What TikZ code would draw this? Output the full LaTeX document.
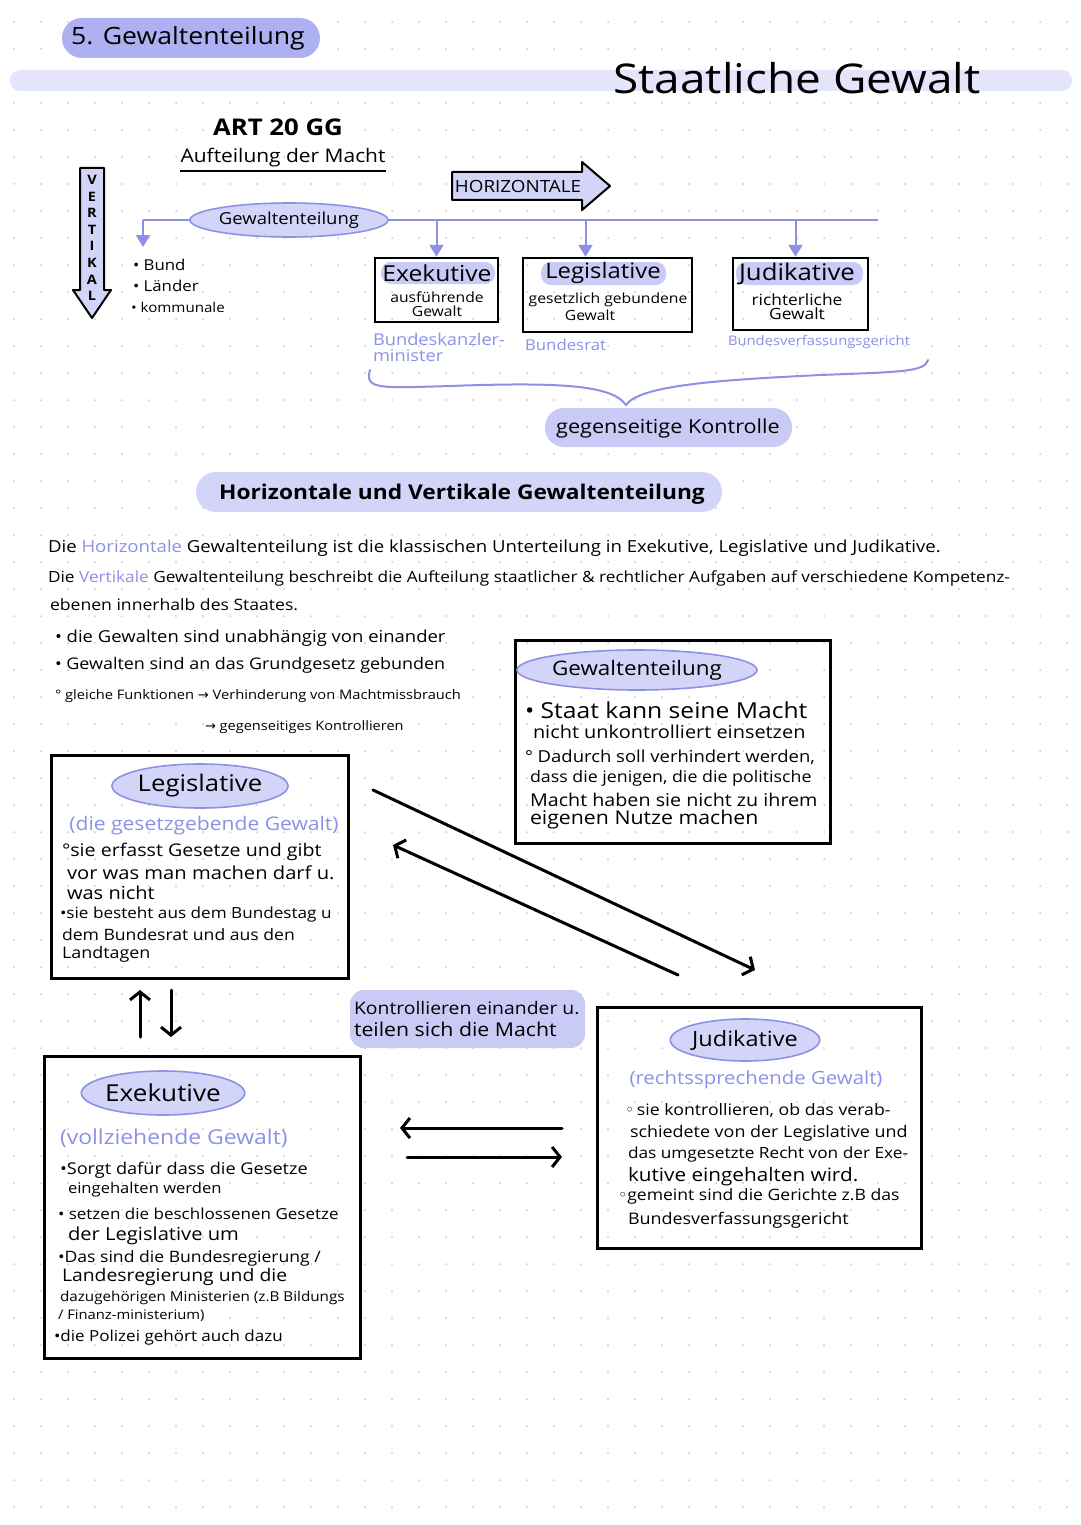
\documentclass[tikz,border=0pt]{standalone}
\usepackage{fontspec}
\setmainfont{Open Sans}[FakeStretch=1.12]
\newfontfamily\dejavu{DejaVu Sans}
\usetikzlibrary{arrows.meta,shapes.geometric}
\definecolor{titlec}{HTML}{ADB1F1}
\definecolor{pillc}{HTML}{C9CBF6}
\definecolor{bandc}{HTML}{E4E5FA}
\definecolor{ellc}{HTML}{D3D5F8}
\definecolor{lavline}{HTML}{8C91E6}
\definecolor{bluetext}{HTML}{8C91E6}
\definecolor{dotc}{HTML}{C9C9CE}
\tikzset{
  hw/.style={font=\fontsize{#1}{#1}\selectfont, inner sep=0pt, outer sep=0pt},
  hwl/.style={hw=#1, anchor=west},
  bluetxt/.style={text=bluetext},
  bigbox/.style={draw=black, line width=3pt, inner sep=0pt},
  smallbox/.style={draw=black, line width=2.4pt, inner sep=0pt},
  lavell/.style={ellipse, draw=lavline, fill=ellc, line width=1.6pt, inner sep=0pt},
  blueline/.style={draw=lavline, line width=2pt},
  bluearrow/.style={draw=lavline, line width=2pt, -{Triangle[width=14pt,length=12pt]}},
  blackarrow/.style={draw=black, line width=3pt, line cap=round, -{Straight Barb[length=8pt,width=20pt]}},
}
\begin{document}
\begin{tikzpicture}[x=1pt,y=-1pt]
\useasboundingbox (0,0) rectangle (1080,1525);
\fill[white] (0,0) rectangle (1080,1525);
% dot grid
\foreach \i in {0,...,39}{
  \foreach \j in {0,...,56}{
    \fill[dotc] (14+27*\i,22+27*\j) circle[radius=1pt];
  }
}
% header
\fill[bandc, rounded corners=10pt] (10,70) rectangle (1072,91);
\fill[titlec, rounded corners=20pt] (62,18) rectangle (320,58);
\node[hw=23.8] (title) at (188,38) {5. Gewaltenteilung};
\node[hw=41] (staat) at (797,78) {Staatliche Gewalt};

% ART 20 GG
\node[hw=22, font=\fontsize{23}{23}\selectfont\bfseries] (art) at (278,127) {ART 20 GG};
\node[hw=18.7] (aufteil) at (283,158) {Aufteilung der Macht};
\draw[line width=1.6pt] (180,171) -- (386,171);

% VERTIKAL arrow
\filldraw[fill=ellc, draw=black, line width=2pt, line join=round]
  (80,168) -- (104,168) -- (104,290) -- (111,290) -- (92,318) -- (73,290) -- (80,290) -- cycle;
\node[hw=13, align=center, font=\fontsize{13}{16.6}\selectfont\bfseries] (vert) at (92,238) {V\\E\\R\\T\\I\\K\\A\\L};

% HORIZONTALE arrow
\filldraw[fill=ellc, draw=black, line width=2pt, line join=round]
  (452,172) -- (582,172) -- (582,162) -- (610,186) -- (582,210) -- (582,200) -- (452,200) -- cycle;
\node[hw=16.8] (horiz) at (518,186) {HORIZONTALE};

% tree
\node[lavell, minimum width=155pt, minimum height=34pt, hw=16.5] (gt) at (289,220) {Gewaltenteilung};
\coordinate (vl) at (143,220);
\coordinate (vlend) at (143,247);
\coordinate (hr) at (878,220);
\draw[blueline] (gt.west) -- (vl);
\draw[bluearrow] (vl) -- (vlend);
\draw[blueline] (gt.east) -- (hr);

\node[hwl=15] (bund) at (133,265) {• Bund};
\node[hwl=15] (laender) at (133,286) {• Länder};
\node[hwl=13.5] (kommun) at (131,307) {• kommunale};

% small boxes
\node[smallbox, minimum width=123pt, minimum height=64pt] (exk) at (436.5,290) {};
\node[smallbox, minimum width=169pt, minimum height=74pt] (lgs) at (607.5,295) {};
\node[smallbox, minimum width=135pt, minimum height=72pt] (jdk) at (800.5,294) {};
\draw[bluearrow] (exk.north |- gt.east) -- (exk.north);
\draw[bluearrow] ([xshift=-22pt]lgs.north |- gt.east) -- ([xshift=-22pt]lgs.north);
\draw[bluearrow] ([xshift=-5pt]jdk.north |- gt.east) -- ([xshift=-5pt]jdk.north);

\fill[pillc, rounded corners=10pt] (381,262) rectangle (495,284);
\fill[pillc, rounded corners=10pt] (541,262) rectangle (666,285);
\fill[pillc, rounded corners=10pt] (736,262) rectangle (863,285);
\node[hw=22] (exkt) at (437,273) {Exekutive};
\node[hw=14] (exk1) at (437,297) {ausführende};
\node[hw=14] (exk2) at (437,311) {Gewalt};
\node[hw=21.3] (lgst) at (603,273) {Legislative};
\node[hw=14] (lgs1) at (608,300) {gesetzlich gebundene};
\node[hw=14] (lgs2) at (590,315) {Gewalt};
\node[hw=23] (jdkt) at (797,274) {Judikative};
\node[hw=15.5] (jdk1) at (797,300) {richterliche};
\node[hw=15.5] (jdk2) at (797,314) {Gewalt};

\node[hwl=16.3, bluetxt] (bk1) at (373,339) {Bundeskanzler-};
\node[hwl=16.3, bluetxt] (bk2) at (373,356) {minister};
\node[hwl=15, bluetxt] (br) at (525,345) {Bundesrat};
\node[hwl=13.2, bluetxt] (bvg) at (728,342) {Bundesverfassungsgericht};

% brace
\coordinate (brL) at (370,370);
\coordinate (brT) at (626,405);
\coordinate (brR) at (928,360);
\draw[blueline, line cap=round] (brL) .. controls (364,390) and (382,388) .. (450,386)
  .. controls (560,382) and (612,385) .. (brT)
  .. controls (640,385) and (720,380) .. (820,375)
  .. controls (900,372) and (925,372) .. (brR);

\fill[pillc, rounded corners=19pt] (545,408) rectangle (792,447);
\node[hw=19.3] (gk) at (668,428) {gegenseitige Kontrolle};

% second heading
\fill[ellc, rounded corners=20pt] (196,472) rectangle (722,512);
\node[hw=20.3, font=\fontsize{20.3}{20.3}\selectfont\bfseries] (hvg) at (462,494) {Horizontale und Vertikale Gewaltenteilung};

% paragraph
\node[hwl=16.6] (p1) at (48,548) {Die \textcolor{bluetext}{Horizontale} Gewaltenteilung ist die klassischen Unterteilung in Exekutive, Legislative und Judikative.};
\node[hwl=15.4] (p2) at (48,578) {Die \textcolor{bluetext}{Vertikale} Gewaltenteilung beschreibt die Aufteilung staatlicher \& rechtlicher Aufgaben auf verschiedene Kompetenz-};
\node[hwl=15.7] (p3) at (50,605) {ebenen innerhalb des Staates.};

\node[hwl=16.5] (b1) at (55,638) {• die Gewalten sind unabhängig von einander};
\node[hwl=16] (b2) at (55,665) {• Gewalten sind an das Grundgesetz gebunden};
\node[hwl=13.1] (b3) at (55,696) {° gleiche Funktionen {\dejavu →} Verhinderung von Machtmissbrauch};
\node[hwl=13] (b4) at (205,727) {{\dejavu →} gegenseitiges Kontrollieren};

% Gewaltenteilung box
\node[bigbox, minimum width=315pt, minimum height=203pt] (gtbox) at (672.5,741.5) {};
\node[lavell, minimum width=188pt, minimum height=40pt, hw=20] (gte) at (637,670) {Gewaltenteilung};
\node[hwl=22] (g1) at (525,710) {• Staat kann seine Macht};
\node[hwl=17.8] (g2) at (533,732) {nicht unkontrolliert einsetzen};
\node[hwl=16.5] (g3) at (525,757) {° Dadurch soll verhindert werden,};
\node[hwl=15.9] (g4) at (530,778) {dass die jenigen, die die politische};
\node[hwl=17.6] (g5) at (530,800) {Macht haben sie nicht zu ihrem};
\node[hwl=19] (g6) at (530,820) {eigenen Nutze machen};

% Legislative box
\node[bigbox, minimum width=297pt, minimum height=223pt] (leg) at (199.5,866.5) {};
\node[lavell, minimum width=150pt, minimum height=44pt, hw=23] (lege) at (200,786) {Legislative};
\node[hw=18.8, bluetxt] (legs) at (204,826) {(die gesetzgebende Gewalt)};
\node[hwl=17.5] (l1) at (62,852) {°sie erfasst Gesetze und gibt};
\node[hwl=18] (l2) at (67,873) {vor was man machen darf u.};
\node[hwl=17.9] (l3) at (67,893) {was nicht};
\node[hwl=15.3] (l4) at (60,915) {•sie besteht aus dem Bundestag u};
\node[hwl=15.7] (l5) at (62,935) {dem Bundesrat und aus den};
\node[hwl=16] (l6) at (62,954) {Landtagen};

% up/down arrows
\coordinate (ua1) at (140,1037);
\coordinate (ua2) at (140,990);
\coordinate (da1) at (171,990);
\coordinate (da2) at (171,1037);
\draw[blackarrow] (ua1) -- (ua2);
\draw[blackarrow] (da1) -- (da2);

% Exekutive box
\node[bigbox, minimum width=316pt, minimum height=302pt] (exe) at (202,1207) {};
\node[lavell, minimum width=140pt, minimum height=44pt, hw=23.3] (exee) at (163,1093) {Exekutive};
\node[hwl=20.5, bluetxt] (exes) at (60,1138) {(vollziehende Gewalt)};
\node[hwl=16.2] (e1) at (60,1170) {•Sorgt dafür dass die Gesetze};
\node[hwl=14.8] (e2) at (68,1190) {eingehalten werden};
\node[hwl=15.2] (e3) at (58,1214) {• setzen die beschlossenen Gesetze};
\node[hwl=18] (e4) at (68,1236) {der Legislative um};
\node[hwl=15.7] (e5) at (58,1258) {•Das sind die Bundesregierung /};
\node[hwl=17.3] (e6) at (62,1277) {Landesregierung und die};
\node[hwl=13.6] (e7) at (60,1298) {dazugehörigen Ministerien (z.B Bildungs};
\node[hwl=13.2] (e8) at (58,1316) {/ Finanz-ministerium)};
\node[hwl=15.2] (e9) at (54,1338) {•die Polizei gehört auch dazu};

% diagonal arrows
\coordinate (d1s) at (373,790);
\coordinate (d1e) at (755,970);
\coordinate (d2s) at (678,975);
\coordinate (d2e) at (393,845);
\draw[blackarrow] (d1s) -- (d1e);
\draw[blackarrow] (d2s) -- (d2e);

% Kontrollieren pill
\fill[pillc, rounded corners=14pt] (350,990) rectangle (585,1048);
\node[hwl=17.3] (k1) at (354,1008) {Kontrollieren einander u.};
\node[hwl=19] (k2) at (354,1029) {teilen sich die Macht};

% horizontal arrows
\coordinate (h1s) at (562,1128);
\coordinate (h1e) at (400,1128);
\coordinate (h2s) at (407,1157);
\coordinate (h2e) at (562,1157);
\draw[blackarrow] (h1s) -- (h1e);
\draw[blackarrow] (h2s) -- (h2e);

% Judikative box
\node[bigbox, minimum width=324pt, minimum height=241pt] (jud) at (759,1127.5) {};
\node[lavell, minimum width=132pt, minimum height=42pt, hw=21] (jude) at (745,1040) {Judikative};
\node[hw=18.2, bluetxt] (juds) at (756,1080) {(rechtssprechende Gewalt)};
\node[hwl=15.8] (j1) at (625,1111) {{\dejavu ◦}\,sie kontrollieren, ob das verab-};
\node[hwl=16] (j2) at (630,1133) {schiedete von der Legislative und};
\node[hwl=15.4] (j3) at (628,1154) {das umgesetzte Recht von der Exe-};
\node[hwl=18.5] (j4) at (628,1177) {kutive eingehalten wird.};
\node[hwl=15.7] (j5) at (618,1196) {{\dejavu ◦}gemeint sind die Gerichte z.B das};
\node[hwl=16] (j6) at (628,1220) {Bundesverfassungsgericht};
\end{tikzpicture}
\end{document}
